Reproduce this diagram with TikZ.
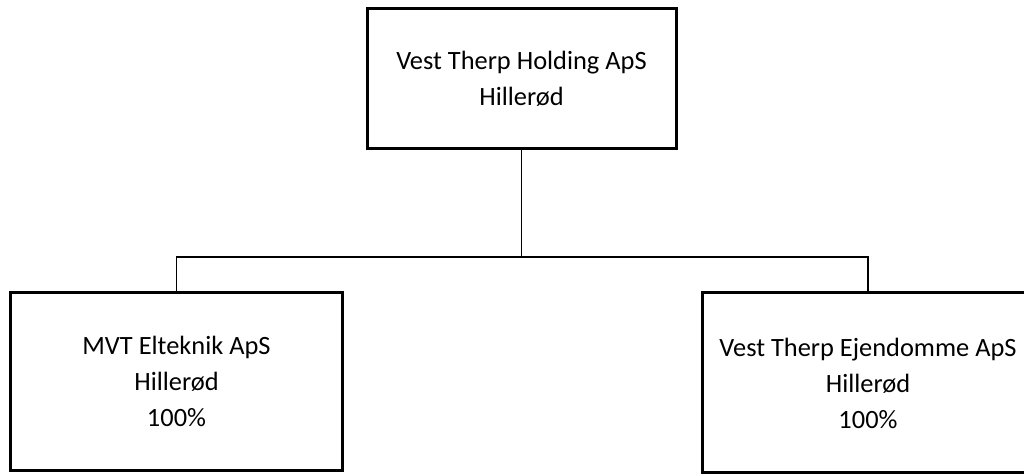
\documentclass[tikz,border=0pt]{standalone}
\usepackage{fontspec}
\setmainfont{Carlito}
\usetikzlibrary{positioning}
\tikzset{
    %Define style for company boxes
    firma/.style={
           rectangle,
           draw=black, line width=1.5pt,
           inner sep=0pt,
           minimum width=166pt,
           minimum height=89pt,
           align=center,
           font=\fontsize{13.2}{18}\selectfont,
           text centered},
    % Define line style
    streg/.style={
           draw=black,
           line width=0.6pt}
}
\begin{document}
\begin{tikzpicture}[x=0.5pt,y=-0.5pt]
\useasboundingbox (0,0) rectangle (1024,474);

 %nodes
\node[firma, minimum width=154.5pt, minimum height=70pt](holding) at (521.5,79){Vest Therp Holding ApS\\Hillerød};
\node[firma](elteknik) at (176.5,381.5){MVT Elteknik ApS\\Hillerød\\100\%};
\node[firma, minimum height=90pt](ejendomme) at (868,383){Vest Therp Ejendomme ApS\\Hillerød\\100\%};
\coordinate (split) at (521.5,257);
 %lines
\draw[streg] (holding.south) -- (split);
\draw[streg] (split) -| (elteknik.north);
\draw[streg] (split) -| (ejendomme.north);
\end{tikzpicture}
\end{document}
